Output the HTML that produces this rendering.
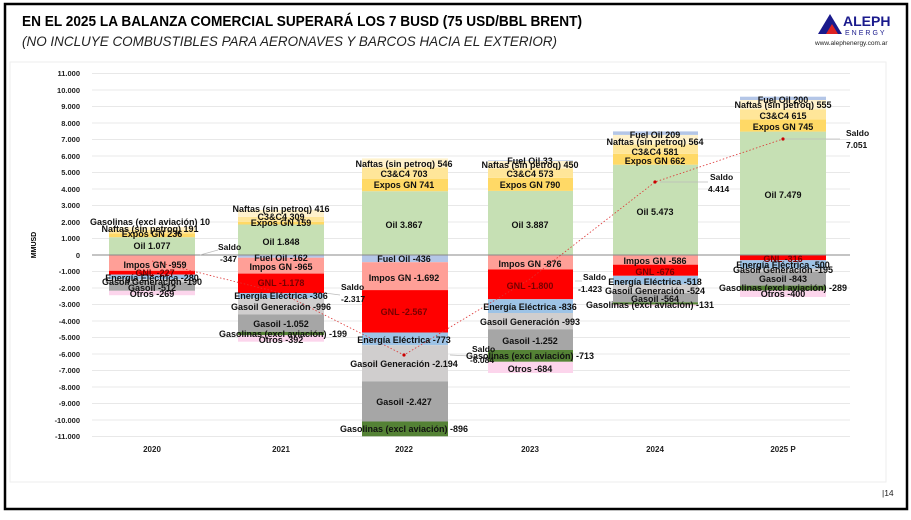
<!DOCTYPE html>
<html><head><meta charset="utf-8"><style>
body{margin:0;background:#fff;width:911px;height:515px;overflow:hidden;font-family:"Liberation Sans",sans-serif}
</style></head><body>
<svg width="911" height="515" xmlns="http://www.w3.org/2000/svg" font-family="Liberation Sans, sans-serif">
<rect x="5" y="4" width="902" height="505" fill="#fff" stroke="#000" stroke-width="2.5"/>
<text x="22" y="26" font-size="15" font-weight="bold" textLength="560" lengthAdjust="spacingAndGlyphs">EN EL 2025 LA BALANZA COMERCIAL SUPERARÁ LOS 7 BUSD (75 USD/BBL BRENT)</text>
<text x="22" y="46" font-size="14" font-style="italic" fill="#222" textLength="535" lengthAdjust="spacingAndGlyphs">(NO INCLUYE COMBUSTIBLES PARA AERONAVES Y BARCOS HACIA EL EXTERIOR)</text>
<polygon points="818,34 830,14 842,34" fill="#1a1a8c"/><polygon points="826,34 832,24 838,34" fill="#d22"/>
<text x="843" y="26" font-size="14" font-weight="bold" fill="#1a1a8c">ALEPH</text>
<text x="845" y="35" font-size="7" fill="#1a1a8c" letter-spacing="2">ENERGY</text>
<text x="815" y="45" font-size="6.5" fill="#222">www.alephenergy.com.ar</text>
<rect x="10" y="62" width="876" height="420" fill="#fff" stroke="#eee"/>
<g stroke="#e8e8e8" stroke-width="1">
<line x1="92" x2="850" y1="73.5" y2="73.5"/><line x1="92" x2="850" y1="90" y2="90"/><line x1="92" x2="850" y1="106.5" y2="106.5"/><line x1="92" x2="850" y1="123" y2="123"/><line x1="92" x2="850" y1="139.5" y2="139.5"/><line x1="92" x2="850" y1="156" y2="156"/><line x1="92" x2="850" y1="172.5" y2="172.5"/><line x1="92" x2="850" y1="189" y2="189"/><line x1="92" x2="850" y1="205.5" y2="205.5"/><line x1="92" x2="850" y1="222" y2="222"/><line x1="92" x2="850" y1="238.5" y2="238.5"/>
<line x1="92" x2="850" y1="271.5" y2="271.5"/><line x1="92" x2="850" y1="288" y2="288"/><line x1="92" x2="850" y1="304.5" y2="304.5"/><line x1="92" x2="850" y1="321" y2="321"/><line x1="92" x2="850" y1="337.5" y2="337.5"/><line x1="92" x2="850" y1="354" y2="354"/><line x1="92" x2="850" y1="370.5" y2="370.5"/><line x1="92" x2="850" y1="387" y2="387"/><line x1="92" x2="850" y1="403.5" y2="403.5"/><line x1="92" x2="850" y1="420" y2="420"/><line x1="92" x2="850" y1="436.5" y2="436.5"/>
</g>
<g font-size="7.5" font-weight="bold" text-anchor="end" fill="#222">
<text x="80" y="76">11.000</text><text x="80" y="93">10.000</text><text x="80" y="109">9.000</text><text x="80" y="126">8.000</text><text x="80" y="142">7.000</text><text x="80" y="159">6.000</text><text x="80" y="175">5.000</text><text x="80" y="192">4.000</text><text x="80" y="208">3.000</text><text x="80" y="225">2.000</text><text x="80" y="241">1.000</text><text x="80" y="258">0</text><text x="80" y="274">-1.000</text><text x="80" y="291">-2.000</text><text x="80" y="307">-3.000</text><text x="80" y="324">-4.000</text><text x="80" y="340">-5.000</text><text x="80" y="357">-6.000</text><text x="80" y="373">-7.000</text><text x="80" y="390">-8.000</text><text x="80" y="406">-9.000</text><text x="80" y="423">-10.000</text><text x="80" y="439">-11.000</text>
</g>
<text transform="translate(36,245) rotate(-90)" font-size="7" font-weight="bold" text-anchor="middle">MMUSD</text>
<g>
<rect x="109" y="237.2" width="86" height="17.8" fill="#c6e0b4"/><rect x="109" y="233.3" width="86" height="3.9" fill="#ffd966"/><rect x="109" y="230" width="86" height="3.3" fill="#ffe699"/><rect x="109" y="226.9" width="86" height="3.1" fill="#fff2cc"/>
<rect x="109" y="255" width="86" height="15.8" fill="#ff9f97"/><rect x="109" y="270.8" width="86" height="3.8" fill="#f00"/><rect x="109" y="274.6" width="86" height="4.6" fill="#9dc3e6"/><rect x="109" y="279.2" width="86" height="3.1" fill="#d0cece"/><rect x="109" y="282.3" width="86" height="8.5" fill="#a6a6a6"/><rect x="109" y="290.8" width="86" height="4.4" fill="#fcd5ec"/>
</g>
<g>
<rect x="238" y="224.5" width="86" height="30.5" fill="#c6e0b4"/><rect x="238" y="221.9" width="86" height="2.6" fill="#ffd966"/><rect x="238" y="216.8" width="86" height="5.1" fill="#ffe699"/><rect x="238" y="209.9" width="86" height="6.9" fill="#fff2cc"/>
<rect x="238" y="255" width="86" height="2.7" fill="#b4c6e7"/><rect x="238" y="257.7" width="86" height="15.9" fill="#ff9f97"/><rect x="238" y="273.6" width="86" height="19.4" fill="#f00"/><rect x="238" y="293" width="86" height="5.1" fill="#9dc3e6"/><rect x="238" y="298.1" width="86" height="16.4" fill="#d0cece"/><rect x="238" y="314.5" width="86" height="17.4" fill="#a6a6a6"/><rect x="238" y="331.9" width="86" height="3.3" fill="#548235"/><rect x="238" y="335.2" width="86" height="6.5" fill="#fcd5ec"/>
</g>
<g>
<rect x="362" y="191.2" width="86" height="63.8" fill="#c6e0b4"/><rect x="362" y="179" width="86" height="12.2" fill="#ffd966"/><rect x="362" y="167.4" width="86" height="11.6" fill="#ffe699"/><rect x="362" y="158.4" width="86" height="9" fill="#fff2cc"/>
<rect x="362" y="255" width="86" height="7.2" fill="#b4c6e7"/><rect x="362" y="262.2" width="86" height="27.9" fill="#ff9f97"/><rect x="362" y="290.1" width="86" height="42.4" fill="#f00"/><rect x="362" y="332.5" width="86" height="12.7" fill="#9dc3e6"/><rect x="362" y="345.2" width="86" height="36.2" fill="#d0cece"/><rect x="362" y="381.4" width="86" height="40.1" fill="#a6a6a6"/><rect x="362" y="421.5" width="86" height="14.8" fill="#548235"/>
</g>
<g>
<rect x="488" y="190.9" width="85" height="64.1" fill="#c6e0b4"/><rect x="488" y="177.8" width="85" height="13.1" fill="#ffd966"/><rect x="488" y="168.4" width="85" height="9.4" fill="#ffe699"/><rect x="488" y="160.9" width="85" height="7.5" fill="#fff2cc"/><rect x="488" y="160.3" width="85" height="0.6" fill="#b4c6e7"/>
<rect x="488" y="255" width="85" height="14.5" fill="#ff9f97"/><rect x="488" y="269.5" width="85" height="29.7" fill="#f00"/><rect x="488" y="299.2" width="85" height="13.8" fill="#9dc3e6"/><rect x="488" y="313" width="85" height="16.3" fill="#d0cece"/><rect x="488" y="329.3" width="85" height="20.7" fill="#a6a6a6"/><rect x="488" y="350" width="85" height="11.8" fill="#548235"/><rect x="488" y="361.8" width="85" height="11.2" fill="#fcd5ec"/>
</g>
<g>
<rect x="613" y="164.7" width="85" height="90.3" fill="#c6e0b4"/><rect x="613" y="153.8" width="85" height="10.9" fill="#ffd966"/><rect x="613" y="144.2" width="85" height="9.6" fill="#ffe699"/><rect x="613" y="134.9" width="85" height="9.3" fill="#fff2cc"/><rect x="613" y="131.4" width="85" height="3.5" fill="#b4c6e7"/>
<rect x="613" y="255" width="85" height="9.7" fill="#ff9f97"/><rect x="613" y="264.7" width="85" height="11.1" fill="#f00"/><rect x="613" y="275.8" width="85" height="8.6" fill="#9dc3e6"/><rect x="613" y="284.4" width="85" height="8.6" fill="#d0cece"/><rect x="613" y="293" width="85" height="9.3" fill="#a6a6a6"/><rect x="613" y="302.3" width="85" height="2.2" fill="#548235"/><rect x="613" y="304.5" width="85" height="1.7" fill="#fcd5ec"/>
</g>
<g>
<rect x="740" y="131.6" width="86" height="123.4" fill="#c6e0b4"/><rect x="740" y="119.3" width="86" height="12.3" fill="#ffd966"/><rect x="740" y="109.2" width="86" height="10.1" fill="#ffe699"/><rect x="740" y="100" width="86" height="9.2" fill="#fff2cc"/><rect x="740" y="96.7" width="86" height="3.3" fill="#b4c6e7"/>
<rect x="740" y="255" width="86" height="5.2" fill="#f00"/><rect x="740" y="260.2" width="86" height="8.3" fill="#9dc3e6"/><rect x="740" y="268.5" width="86" height="3.2" fill="#d0cece"/><rect x="740" y="271.7" width="86" height="13.9" fill="#a6a6a6"/><rect x="740" y="285.6" width="86" height="4.8" fill="#548235"/><rect x="740" y="290.4" width="86" height="6.6" fill="#fcd5ec"/>
</g>
<line x1="92" x2="850" y1="255" y2="255" stroke="#888" stroke-width="1"/>
<polyline points="152,261 281,293 404,355 530,279 655,182 783,139" fill="none" stroke="#d33" stroke-width="0.8" stroke-dasharray="1.5,2"/>
<g fill="#c00"><circle cx="404" cy="355" r="1.6"/><circle cx="655" cy="182" r="1.6"/><circle cx="783" cy="139" r="1.6"/></g>
<g stroke="#bbb" stroke-width="0.7"><line x1="200" y1="255" x2="218" y2="250"/><line x1="325" y1="293" x2="340" y2="295"/><line x1="450" y1="355" x2="470" y2="356"/><line x1="575" y1="281" x2="582" y2="281"/><line x1="660" y1="182" x2="708" y2="182"/><line x1="785" y1="139" x2="840" y2="139"/></g>
<g font-size="8.5" font-weight="bold" fill="#111">
<text x="218" y="250">Saldo</text><text x="220" y="262">-347</text>
<text x="341" y="290">Saldo</text><text x="341" y="302">-2.317</text>
<text x="472" y="352">Saldo</text><text x="470" y="363">-6.084</text>
<text x="583" y="280">Saldo</text><text x="578" y="292">-1.423</text>
<text x="710" y="180">Saldo</text><text x="708" y="192">4.414</text>
<text x="846" y="136">Saldo</text><text x="846" y="148">7.051</text>
</g>
<g font-size="9" font-weight="bold" fill="#111" text-anchor="middle">
<text x="150" y="225">Gasolinas (excl aviación) 10</text><text x="150" y="232">Naftas (sin petroq) 191</text><text x="152" y="237">Expos GN 236</text><text x="152" y="249">Oil 1.077</text>
<text x="155" y="268">Impos GN -959</text><text x="155" y="276" fill="#700">GNL -227</text><text x="152" y="281">Energía Eléctrica -280</text><text x="152" y="285">Gasoil Generación -190</text><text x="152" y="291">Gasoil -512</text><text x="152" y="297">Otros -269</text>
<text x="281" y="212">Naftas (sin petroq) 416</text><text x="281" y="220">C3&amp;C4 309</text><text x="281" y="226">Expos GN 159</text><text x="281" y="245">Oil 1.848</text>
<text x="281" y="261">Fuel Oil -162</text><text x="281" y="270">Impos GN -965</text><text x="281" y="286" fill="#700">GNL -1.178</text><text x="281" y="299">Energía Eléctrica -306</text><text x="281" y="310">Gasoil Generación -996</text><text x="281" y="327">Gasoil -1.052</text><text x="283" y="337">Gasolinas (excl aviación) -199</text><text x="281" y="343">Otros -392</text>
<text x="404" y="167">Naftas (sin petroq) 546</text><text x="404" y="177">C3&amp;C4 703</text><text x="404" y="188">Expos GN 741</text><text x="404" y="228">Oil 3.867</text>
<text x="404" y="262">Fuel Oil -436</text><text x="404" y="281">Impos GN -1.692</text><text x="404" y="315" fill="#700">GNL -2.567</text><text x="404" y="343">Energía Eléctrica -773</text><text x="404" y="367">Gasoil Generación -2.194</text><text x="404" y="405">Gasoil -2.427</text><text x="404" y="432">Gasolinas (excl aviación) -896</text>
<text x="530" y="164">Fuel Oil 33</text><text x="530" y="168">Naftas (sin petroq) 450</text><text x="530" y="177">C3&amp;C4 573</text><text x="530" y="188">Expos GN 790</text><text x="530" y="228">Oil 3.887</text>
<text x="530" y="267">Impos GN -876</text><text x="530" y="289" fill="#700">GNL -1.800</text><text x="530" y="310">Energía Eléctrica -836</text><text x="530" y="325">Gasoil Generación -993</text><text x="530" y="344">Gasoil -1.252</text><text x="530" y="359">Gasolinas (excl aviación) -713</text><text x="530" y="372">Otros -684</text>
<text x="655" y="138">Fuel Oil 209</text><text x="655" y="145">Naftas (sin petroq) 564</text><text x="655" y="155">C3&amp;C4 581</text><text x="655" y="164">Expos GN 662</text><text x="655" y="215">Oil 5.473</text>
<text x="655" y="264">Impos GN -586</text><text x="655" y="275" fill="#700">GNL -676</text><text x="655" y="285">Energía Eléctrica -518</text><text x="655" y="294">Gasoil Generación -524</text><text x="655" y="302">Gasoil -564</text><text x="650" y="308">Gasolinas (excl aviación) -131</text>
<text x="783" y="103">Fuel Oil 200</text><text x="783" y="108">Naftas (sin petroq) 555</text><text x="783" y="119">C3&amp;C4 615</text><text x="783" y="130">Expos GN 745</text><text x="783" y="198">Oil 7.479</text>
<text x="783" y="262" fill="#700">GNL -316</text><text x="783" y="268">Energía Eléctrica -500</text><text x="783" y="273">Gasoil Generación -195</text><text x="783" y="282">Gasoil -843</text><text x="783" y="291">Gasolinas (excl aviación) -289</text><text x="783" y="297">Otros -400</text>
</g>
<g font-size="8" font-weight="bold" text-anchor="middle" fill="#222">
<text x="152" y="452">2020</text><text x="281" y="452">2021</text><text x="404" y="452">2022</text><text x="530" y="452">2023</text><text x="655" y="452">2024</text><text x="783" y="452">2025 P</text>
</g>
<text x="882" y="496" font-size="8.5" fill="#222">|14</text>
</svg>
</body></html>
